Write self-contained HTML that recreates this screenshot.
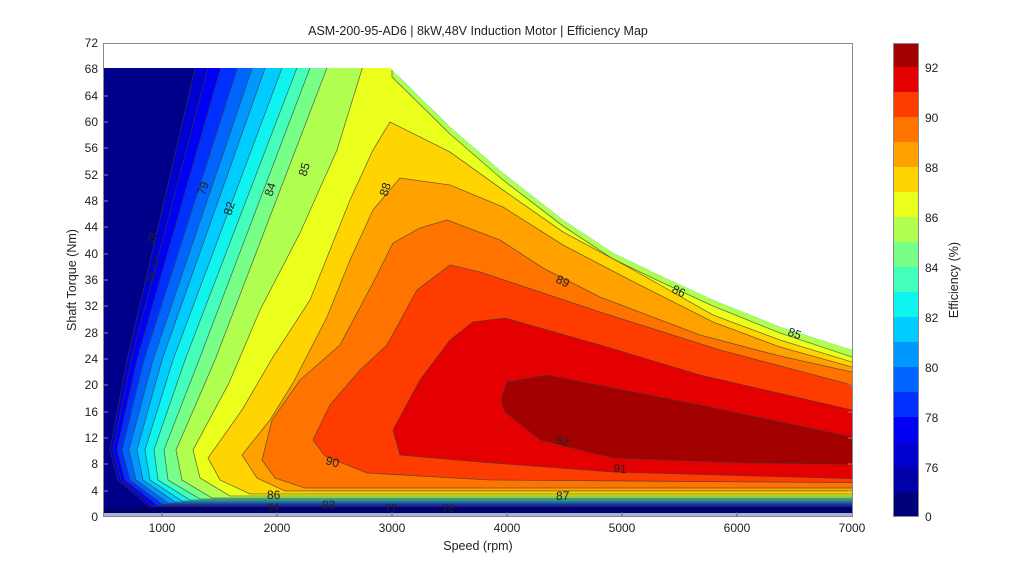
<!DOCTYPE html>
<html><head><meta charset="utf-8"><style>
html,body{margin:0;padding:0;background:#fff;}
svg{display:block;font-family:"Liberation Sans",Arial,sans-serif;}
</style></head><body>
<svg width="1024" height="576" viewBox="0 0 1024 576" xmlns="http://www.w3.org/2000/svg">
<defs>
<clipPath id="env"><polygon points="104,68 390,68 450,127 503,173 563,220 613,253 663,277 713,300 780,327 852,350 852,512 104,512"/></clipPath>
</defs>
<rect width="1024" height="576" fill="#fff"/>
<polygon points="104,68 390,68 450,127 503,173 563,220 613,253 663,277 713,300 780,327 852,350 852,512 104,512" fill="#00008a"/>
<g clip-path="url(#env)" stroke="#3a3a3a" stroke-width="0.8" stroke-opacity="0.7">
<polygon fill="#0000d0" points="197,60 900,60 900,507 150,507 118,480 110,450 127,360"/>
<polygon fill="#0000f4" points="210,60 900,60 900,506 153,506 121,480 113,450 131,360"/>
<polygon fill="#0030ff" points="223,60 900,60 900,505 157,505 125,480 117,450 137,360"/>
<polygon fill="#0064ff" points="240,60 900,60 900,504 162,504 130,480 122,450 144,360"/>
<polygon fill="#0098ff" points="255,60 900,60 900,503 168,503 136,480 129,450 153,360"/>
<polygon fill="#00ccff" points="268,60 900,60 900,502 175,502 143,480 137,450 162,360"/>
<polygon fill="#10f4f0" points="285,60 900,60 900,501 182,501 150,480 145,450 173,360"/>
<polygon fill="#44ffbb" points="300,60 900,60 900,500 190,500 158,480 154,450 185,360"/>
<polygon fill="#78ff88" points="313,60 900,60 900,499 200,499 168,480 164,450 199,360"/>
<polygon fill="#b0ff50" points="330,60 900,60 900,498 212,498 182,480 176,450 215,360"/>
<polygon fill="#eaff1c" points="365,60 392,60 392,77 450,134 503,180 563,226 613,259 663,283 713,306 780,333 852,357 900,357 900,496 230,496 200,478 193,450 229,383 260,310 300,233 337,150 362,69"/>
<polygon fill="#ffd400" points="390,122 450,152 503,190 563,232 630,268 713,315 780,340 852,362 900,362 900,494 250,494 220,480 208,458 242,410 273,357 310,300 350,200 373,150"/>
<polygon fill="#ffa200" points="400,178 450,185 503,207 563,245 630,280 713,322 780,347 852,367 900,367 900,491 285,491 257,478 242,455 270,420 293,383 327,317 350,260 373,210"/>
<polygon fill="#ff7400" points="447,220 500,240 543,268 600,297 700,335 780,356 852,372 900,372 900,488 305,488 275,478 262,460 272,420 300,380 340,345 373,283 393,243 420,228"/>
<polygon fill="#ff3c00" points="450,265 480,272 600,312 720,350 852,385 900,385 900,483 490,480 367,473 325,456 313,440 330,405 360,370 387,345 417,290"/>
<polygon fill="#e40000" points="505,318 600,345 700,375 852,410 900,410 900,480 613,472 480,462 400,455 393,430 420,380 450,340 473,322"/>
<polygon fill="#a30000" points="507,382 547,375 700,405 852,437 900,437 900,465 747,463 613,458 540,440 505,412 501,400"/>
</g>
<rect x="104" y="507" width="748" height="6" fill="#00006a"/>
<rect x="104" y="513" width="748" height="4" fill="#a8b0dc"/>
<g font-size="12" fill="#222">
<text transform="translate(205,196) rotate(-72)">79</text>
<text transform="translate(231,216) rotate(-72)">82</text>
<text transform="translate(272,197) rotate(-72)">84</text>
<text transform="translate(306,177) rotate(-72)">85</text>
<text transform="translate(387,197) rotate(-72)">88</text>
<text transform="translate(154,245) rotate(-75)" font-size="11">78</text>
<text transform="translate(159,270) rotate(-75)" font-size="11">77</text>
<text transform="translate(154,285) rotate(-75)" font-size="11">76</text>
<text transform="translate(555,282) rotate(25)">89</text>
<text transform="translate(671,292) rotate(25)">86</text>
<text transform="translate(787,335) rotate(20)">85</text>
<text transform="translate(555,443) rotate(15)">92</text>
<text transform="translate(613,472) rotate(5)">91</text>
<text transform="translate(325,464) rotate(15)">90</text>
<text x="556" y="500">87</text>
<text x="267" y="499">86</text>
<text x="322" y="509">83</text>
<text x="385" y="512" font-size="11">77</text>
<text x="442" y="512" font-size="11">76</text>
<text x="267" y="511" font-size="11">84</text>
</g>
<rect x="103.5" y="43.5" width="749" height="473" fill="none" stroke="#888" stroke-width="1"/>
<g stroke="#666" stroke-width="1">
<line x1="162" y1="517" x2="162" y2="512"/><line x1="277" y1="517" x2="277" y2="512"/><line x1="392" y1="517" x2="392" y2="512"/><line x1="507" y1="517" x2="507" y2="512"/><line x1="622" y1="517" x2="622" y2="512"/><line x1="737" y1="517" x2="737" y2="512"/>
</g>
<g font-size="12" fill="#222" text-anchor="middle">
<text x="162" y="532">1000</text><text x="277" y="532">2000</text><text x="392" y="532">3000</text><text x="507" y="532">4000</text><text x="622" y="532">5000</text><text x="737" y="532">6000</text><text x="852" y="532">7000</text>
</g>
<g font-size="12" fill="#222" text-anchor="end">
<text x="98" y="521">0</text><text x="98" y="495">4</text><text x="98" y="468">8</text><text x="98" y="442">12</text><text x="98" y="416">16</text><text x="98" y="389">20</text><text x="98" y="363">24</text><text x="98" y="337">28</text><text x="98" y="310">32</text><text x="98" y="284">36</text><text x="98" y="258">40</text><text x="98" y="231">44</text><text x="98" y="205">48</text><text x="98" y="179">52</text><text x="98" y="152">56</text><text x="98" y="126">60</text><text x="98" y="100">64</text><text x="98" y="73">68</text><text x="98" y="47">72</text>
</g>
<g stroke="#888" stroke-width="1">
<line x1="104" y1="491" x2="108" y2="491"/><line x1="104" y1="464" x2="108" y2="464"/><line x1="104" y1="438" x2="108" y2="438"/><line x1="104" y1="412" x2="108" y2="412"/><line x1="104" y1="385" x2="108" y2="385"/><line x1="104" y1="359" x2="108" y2="359"/><line x1="104" y1="333" x2="108" y2="333"/><line x1="104" y1="306" x2="108" y2="306"/><line x1="104" y1="280" x2="108" y2="280"/><line x1="104" y1="254" x2="108" y2="254"/><line x1="104" y1="227" x2="108" y2="227"/><line x1="104" y1="201" x2="108" y2="201"/><line x1="104" y1="175" x2="108" y2="175"/><line x1="104" y1="148" x2="108" y2="148"/><line x1="104" y1="122" x2="108" y2="122"/><line x1="104" y1="96" x2="108" y2="96"/><line x1="852" y1="491" x2="848" y2="491"/><line x1="852" y1="464" x2="848" y2="464"/><line x1="852" y1="438" x2="848" y2="438"/><line x1="852" y1="412" x2="848" y2="412"/><line x1="852" y1="385" x2="848" y2="385"/>
</g>
<text x="478" y="35" font-size="12.5" fill="#222" text-anchor="middle">ASM-200-95-AD6 | 8kW,48V Induction Motor | Efficiency Map</text>
<text x="478" y="550" font-size="12.5" fill="#222" text-anchor="middle">Speed  (rpm)</text>
<text transform="translate(76,280) rotate(-90)" font-size="12.5" fill="#222" text-anchor="middle">Shaft Torque (Nm)</text>
<g>
<rect x="893" y="492" width="25" height="25" fill="#00007a"/>
<rect x="893" y="467" width="25" height="25" fill="#0000a8"/>
<rect x="893" y="442" width="25" height="25" fill="#0000d0"/>
<rect x="893" y="417" width="25" height="25" fill="#0000f4"/>
<rect x="893" y="392" width="25" height="25" fill="#0030ff"/>
<rect x="893" y="367" width="25" height="25" fill="#0064ff"/>
<rect x="893" y="342" width="25" height="25" fill="#0098ff"/>
<rect x="893" y="317" width="25" height="25" fill="#00ccff"/>
<rect x="893" y="292" width="25" height="25" fill="#10f4f0"/>
<rect x="893" y="267" width="25" height="25" fill="#44ffbb"/>
<rect x="893" y="242" width="25" height="25" fill="#78ff88"/>
<rect x="893" y="217" width="25" height="25" fill="#b0ff50"/>
<rect x="893" y="192" width="25" height="25" fill="#eaff1c"/>
<rect x="893" y="167" width="25" height="25" fill="#ffd400"/>
<rect x="893" y="142" width="25" height="25" fill="#ffa200"/>
<rect x="893" y="117" width="25" height="25" fill="#ff7400"/>
<rect x="893" y="92" width="25" height="25" fill="#ff3c00"/>
<rect x="893" y="67" width="25" height="25" fill="#e40000"/>
<rect x="893" y="43" width="25" height="24" fill="#a30000"/>
<rect x="893.5" y="43.5" width="25" height="473" fill="none" stroke="#888"/>
</g>
<g font-size="12" fill="#222">
<text x="925" y="72">92</text><text x="925" y="122">90</text><text x="925" y="172">88</text><text x="925" y="222">86</text><text x="925" y="272">84</text><text x="925" y="322">82</text><text x="925" y="372">80</text><text x="925" y="422">78</text><text x="925" y="472">76</text><text x="925" y="521">0</text>
</g>
<text transform="translate(958,280) rotate(-90)" font-size="12.5" fill="#222" text-anchor="middle">Efficiency (%)</text>
</svg>
</body></html>
